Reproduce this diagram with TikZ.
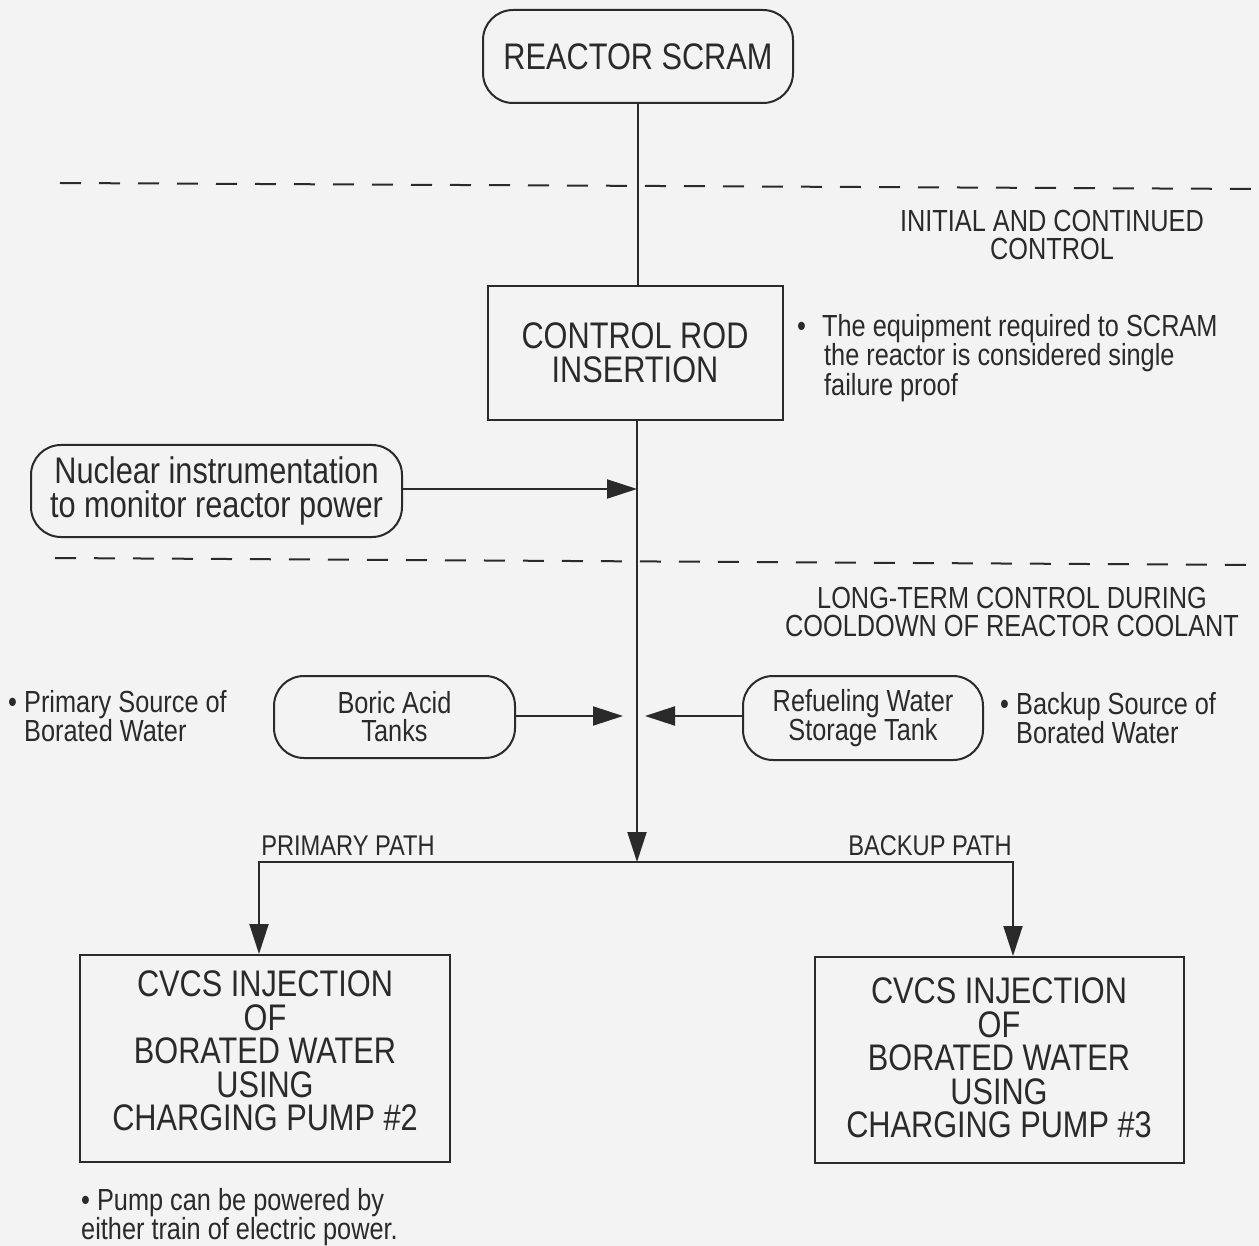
\documentclass[tikz,border=0pt]{standalone}
\usepackage{fontspec}
\setmainfont{Liberation Sans}[FakeStretch=0.83]
\usetikzlibrary{arrows.meta}
\definecolor{ink}{HTML}{2A2A2A}
\definecolor{paper}{HTML}{F3F3F3}
\newcommand\bigtxt{\fontsize{37}{33.5}\selectfont}
\newcommand\smalltxt{\fontsize{30.5}{28}\selectfont}
\newcommand\pathtxt{\fontsize{28.5}{28}\selectfont}
\tikzset{
  every node/.style={text=ink},
  ln/.style={draw=ink, line width=2pt},
  arr/.style={ln, -{Triangle[length=30pt,width=19pt]}},
  rbox/.style={draw=ink, line width=2pt, rounded corners=30pt, inner sep=0pt, align=center},
  sqbox/.style={draw=ink, line width=2pt, inner sep=0pt, align=center},
  dashline/.style={draw=ink, line width=2pt, dash pattern=on 21pt off 18pt},
  note/.style={inner sep=0pt, align=left, font=\smalltxt},
}
\begin{document}
\begin{tikzpicture}[x=1pt,y=-1pt]
\fill[paper] (0,0) rectangle (1259,1246);
\useasboundingbox (0,0) rectangle (1259,1246);

% boxes
\node[rbox, minimum width=310pt, minimum height=93pt, font=\bigtxt] (scram) at (638,56.5) {REACTOR SCRAM};
\node[sqbox, minimum width=295pt, minimum height=134pt, font=\bigtxt] (rod) at (635,353) {CONTROL ROD\\INSERTION};
\node[rbox, minimum width=371pt, minimum height=92pt, font=\bigtxt] (nuc) at (216.5,491) {Nuclear instrumentation\\to monitor reactor power};
\node[rbox, minimum width=241pt, minimum height=82pt, font=\smalltxt] (boric) at (394.5,717) {Boric Acid\\Tanks};
\node[rbox, minimum width=240pt, minimum height=84pt, font=\smalltxt] (rwst) at (863,718) {Refueling Water\\Storage Tank};
\node[sqbox, minimum width=370pt, minimum height=207pt] (cvcs2) at (265,1058.5) {};
\node[font=\bigtxt, align=center, inner sep=0pt] (cvcs2t) at (265,1051) {CVCS INJECTION\\OF\\BORATED WATER\\USING\\CHARGING PUMP \#2};
\node[sqbox, minimum width=369pt, minimum height=206pt] (cvcs3) at (999.5,1060) {};
\node[font=\bigtxt, align=center, inner sep=0pt] (cvcs3t) at (999,1058) {CVCS INJECTION\\OF\\BORATED WATER\\USING\\CHARGING PUMP \#3};

% junction coordinates
\coordinate (jnuc) at (637,489);
\coordinate (jbor) at (623,716);
\coordinate (jrw) at (645,716);
\coordinate (split) at (637,862);

% connectors
\draw[ln] (scram.south) -- (rod.north -| scram.south);
\draw[arr] (rod.south -| split) -- (split);
\draw[arr] (nuc.east |- jnuc) -- (jnuc);
\draw[arr] (boric.east |- jbor) -- (jbor);
\draw[arr] (rwst.west |- jrw) -- (jrw);
\draw[arr] (split) -| (cvcs2.north -| 259,0);
\draw[arr] (split) -| (cvcs3.north -| 1013,0);

% dashed separators
\coordinate (d1a) at (60,183); \coordinate (d1b) at (1259,189);
\coordinate (d2a) at (55,558); \coordinate (d2b) at (1259,565);
\draw[dashline] (d1a) -- (d1b);
\draw[dashline] (d2a) -- (d2b);

% labels
\node[font=\smalltxt, align=center, inner sep=0pt] (lab1) at (1052,235) {INITIAL AND CONTINUED\\CONTROL};
\node[font=\smalltxt, align=center, inner sep=0pt] (lab2) at (1012,612) {LONG-TERM CONTROL DURING\\COOLDOWN OF REACTOR COOLANT};
\node[font=\pathtxt, inner sep=0pt] (pp) at (348,846) {PRIMARY PATH};
\node[font=\pathtxt, inner sep=0pt] (bp) at (930,846) {BACKUP PATH};

% notes
\node[note, anchor=west] (n1) at (797,358) {\makebox[25pt][l]{\textbullet}The equipment required to SCRAM\\\hspace*{27pt}the reactor is considered single\\\hspace*{27pt}failure proof};
\node[note, anchor=west] (n2) at (8,716) {\makebox[16pt][l]{\textbullet}Primary Source of\\\hspace*{16pt}Borated Water};
\node[note, anchor=west] (n3) at (1000,718) {\makebox[16pt][l]{\textbullet}Backup Source of\\\hspace*{16pt}Borated Water};
\node[note, anchor=west] (n4) at (81,1217) {\textbullet\ Pump can be powered by\\either train of electric power.};
\end{tikzpicture}
\end{document}
